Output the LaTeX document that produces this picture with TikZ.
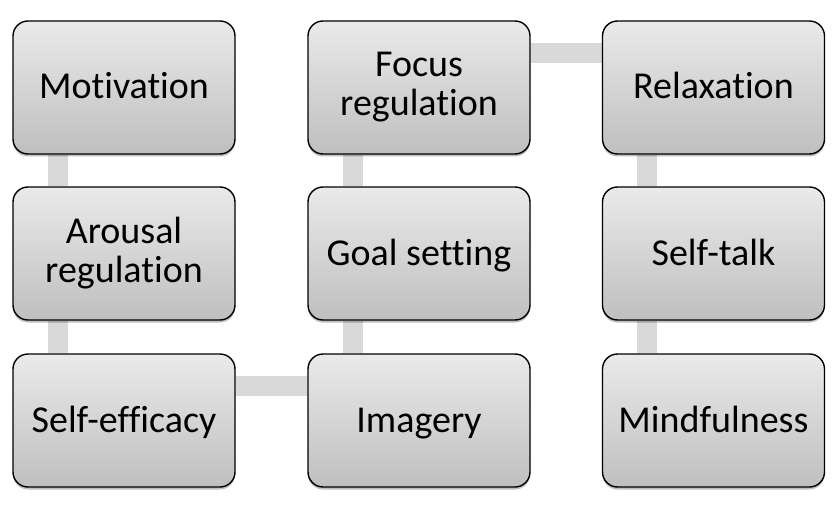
\documentclass[tikz,border=0pt]{standalone}
\usepackage{fontspec}
\setmainfont{Carlito}[Ligatures={NoCommon}]
\usetikzlibrary{backgrounds,shadows}
\definecolor{linkgray}{HTML}{D9D9D9}
\definecolor{topgray}{HTML}{EAEAEA}
\definecolor{botgray}{HTML}{BFBFBF}
\newcommand\topstrut{\rule{0pt}{30pt}}
\newcommand\botstrut{\rule[-7pt]{0pt}{7pt}}
\tikzset{
  stepbox/.style={draw=black, line width=1.4pt, rounded corners=15pt,
    top color=topgray, bottom color=botgray,
    minimum width=222pt, minimum height=133pt, inner sep=0pt,
    align=center, text=black,
    execute at begin node=\topstrut, execute at end node=\botstrut,
    font=\fontsize{38}{39}\selectfont,
    drop shadow={shadow xshift=0pt, shadow yshift=-2.5pt, opacity=0.25, fill=black}},
  link/.style={draw=linkgray, line width=20pt}
}
\begin{document}
\begin{tikzpicture}[x=1pt,y=-1pt]
\useasboundingbox (0,0) rectangle (838,508);
\node[stepbox] (mot) at (124,87.5) {Motivation};
\node[stepbox] (aro) at (124,253.5) {Arousal\\regulation};
\node[stepbox] (eff) at (124,420.5) {Self-efficacy};
\node[stepbox] (ima) at (419,420.5) {Imagery};
\node[stepbox] (goa) at (419,253.5) {Goal setting};
\node[stepbox] (foc) at (419,87.5) {Focus\\regulation};
\node[stepbox] (rel) at (713.5,87.5) {Relaxation};
\node[stepbox] (tal) at (713.5,253.5) {Self-talk};
\node[stepbox] (min) at (713.5,420.5) {Mindfulness};
\begin{pgfonlayer}{background}
\draw[link] ([xshift=45.5pt]mot.south west) -- ([xshift=45.5pt]aro.north west);
\draw[link] ([xshift=45.5pt]aro.south west) -- ([xshift=45.5pt]eff.north west);
\draw[link] ([yshift=-33pt]eff.north east) -- ([yshift=-33pt]ima.north west);
\draw[link] ([xshift=45.5pt]ima.north west) -- ([xshift=45.5pt]goa.south west);
\draw[link] ([xshift=45.5pt]goa.north west) -- ([xshift=45.5pt]foc.south west);
\draw[link] ([yshift=-33pt]foc.north east) -- ([yshift=-33pt]rel.north west);
\draw[link] ([xshift=45.5pt]rel.south west) -- ([xshift=45.5pt]tal.north west);
\draw[link] ([xshift=45.5pt]tal.south west) -- ([xshift=45.5pt]min.north west);
\end{pgfonlayer}
\end{tikzpicture}
\end{document}
